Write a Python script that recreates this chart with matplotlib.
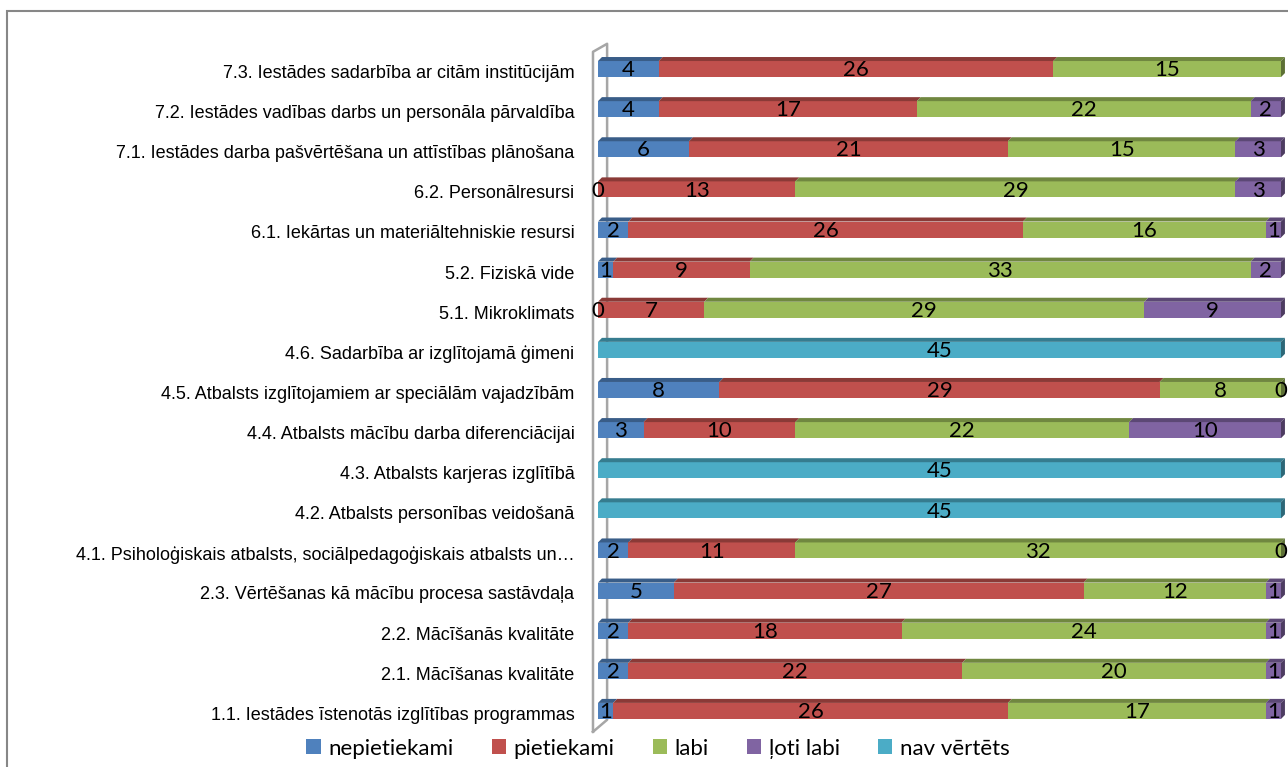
import numpy as np
import matplotlib
matplotlib.use("Agg")
import matplotlib.pyplot as plt
from matplotlib.patches import Polygon, Rectangle

# categories, top to bottom as in the chart
categories = [
    "7.3. Iestādes sadarbība ar citām institūcijām",
    "7.2. Iestādes vadības darbs un personāla pārvaldība",
    "7.1. Iestādes darba pašvērtēšana un attīstības plānošana",
    "6.2. Personālresursi",
    "6.1. Iekārtas un materiāltehniskie resursi",
    "5.2. Fiziskā vide",
    "5.1. Mikroklimats",
    "4.6. Sadarbība ar izglītojamā ģimeni",
    "4.5. Atbalsts izglītojamiem ar speciālām vajadzībām",
    "4.4. Atbalsts mācību darba diferenciācijai",
    "4.3. Atbalsts karjeras izglītībā",
    "4.2. Atbalsts personības veidošanā",
    "4.1. Psiholoģiskais atbalsts, sociālpedagoģiskais atbalsts un…",
    "2.3. Vērtēšanas kā mācību procesa sastāvdaļa",
    "2.2. Mācīšanās kvalitāte",
    "2.1. Mācīšanas kvalitāte",
    "1.1. Iestādes īstenotās izglītības programmas",
]

series_names = ["nepietiekami", "pietiekami", "labi", "ļoti labi", "nav vērtēts"]
N = None  # empty cell
nepietiekami = [4, 4, 6, 0, 2, 1, 0, N, 8, 3, N, N, 2, 5, 2, 2, 1]
pietiekami   = [26, 17, 21, 13, 26, 9, 7, N, 29, 10, N, N, 11, 27, 18, 22, 26]
labi         = [15, 22, 15, 29, 16, 33, 29, N, 8, 22, N, N, 32, 12, 24, 20, 17]
loti_labi    = [N, 2, 3, 3, 1, 2, 9, N, 0, 10, N, N, 0, 1, 1, 1, 1]
nav_vertets  = [N, N, N, N, N, N, N, 45, N, N, 45, 45, N, N, N, N, N]

colors = ["#4F81BD", "#C0504D", "#9BBB59", "#8064A2", "#4BACC6"]


def darker(c, f=0.72):
    rgb = np.array(matplotlib.colors.to_rgb(c))
    return tuple(rgb * f)


data = [nepietiekami, pietiekami, labi, loti_labi, nav_vertets]
n = len(categories)
ypos = np.arange(n)[::-1]

fig = plt.figure(figsize=(12.88, 7.67), dpi=100)
ax = fig.add_axes([598 / 1288, 36 / 767, 683 / 1288, 682 / 767])

h = 0.4          # front face height
dx, dy = 0.26, 0.1  # 3d depth offset

# back wall outline
wall_x = [-0.33, -0.33, 0.6, 0.6, -0.33]
wall_y = [-0.52, 16.43, 16.63, -0.22, -0.52]
ax.plot(wall_x, wall_y, color="#A6A6A6", lw=1.8, zorder=0, clip_on=False)

left = np.zeros(n)
for k, (vals, col) in enumerate(zip(data, colors)):
    v = np.array([np.nan if x is None else x for x in vals], dtype=float)
    w = np.nan_to_num(v)
    ax.barh(ypos, w, left=left, height=h, color=col, edgecolor="none",
            label=series_names[k], zorder=2)
    for i in range(n):
        if w[i] > 0:
            y0 = ypos[i] + h / 2
            x0 = left[i]
            top = Polygon([(x0, y0), (x0 + dx, y0 + dy), (x0 + w[i] + dx, y0 + dy),
                           (x0 + w[i], y0)], closed=True, facecolor=darker(col),
                          edgecolor="none", zorder=2, clip_on=False)
            ax.add_patch(top)
        if not np.isnan(v[i]):
            ax.text(left[i] + w[i] / 2, ypos[i] - 0.03, f"{int(v[i])}", ha="center",
                    va="center", fontsize=16, family="Lato", color="black", zorder=4)
    left = left + w

# right side faces
for i in range(n):
    r = left[i]
    col = None
    for vals, c in zip(data, colors):
        if vals[i] is not None and vals[i] > 0:
            col = c
    y0 = ypos[i] - h / 2
    side = Polygon([(r, y0), (r, y0 + h), (r + dx, y0 + h + dy), (r + dx, y0 + dy)],
                   closed=True, facecolor=darker(col, 0.6), edgecolor="none",
                   zorder=2, clip_on=False)
    ax.add_patch(side)

ax.set_xlim(0, 45)
ax.set_ylim(-0.5, n - 0.5)
ax.set_yticks(ypos - 0.06)
ax.set_yticklabels(categories, fontsize=13, family="Liberation Sans")
ax.tick_params(axis="y", length=0, pad=17)
ax.set_xticks([])
for s in ax.spines.values():
    s.set_visible(False)

# chart border
fig.patches.append(Rectangle((7 / 1288, -0.05), 1.1, 1 - 11 / 767 + 0.05,
                             transform=fig.transFigure, fill=False,
                             edgecolor="#878787", lw=1.5))

handles, labels = ax.get_legend_handles_labels()
leg = fig.legend(handles, labels, loc="center", bbox_to_anchor=(0.511, 0.024),
                 ncol=5, frameon=False, prop={"family": "Lato", "size": 16},
                 handlelength=0.65, handleheight=0.65, handletextpad=0.35,
                 columnspacing=1.7)

fig.savefig("out.png", dpi=100)
